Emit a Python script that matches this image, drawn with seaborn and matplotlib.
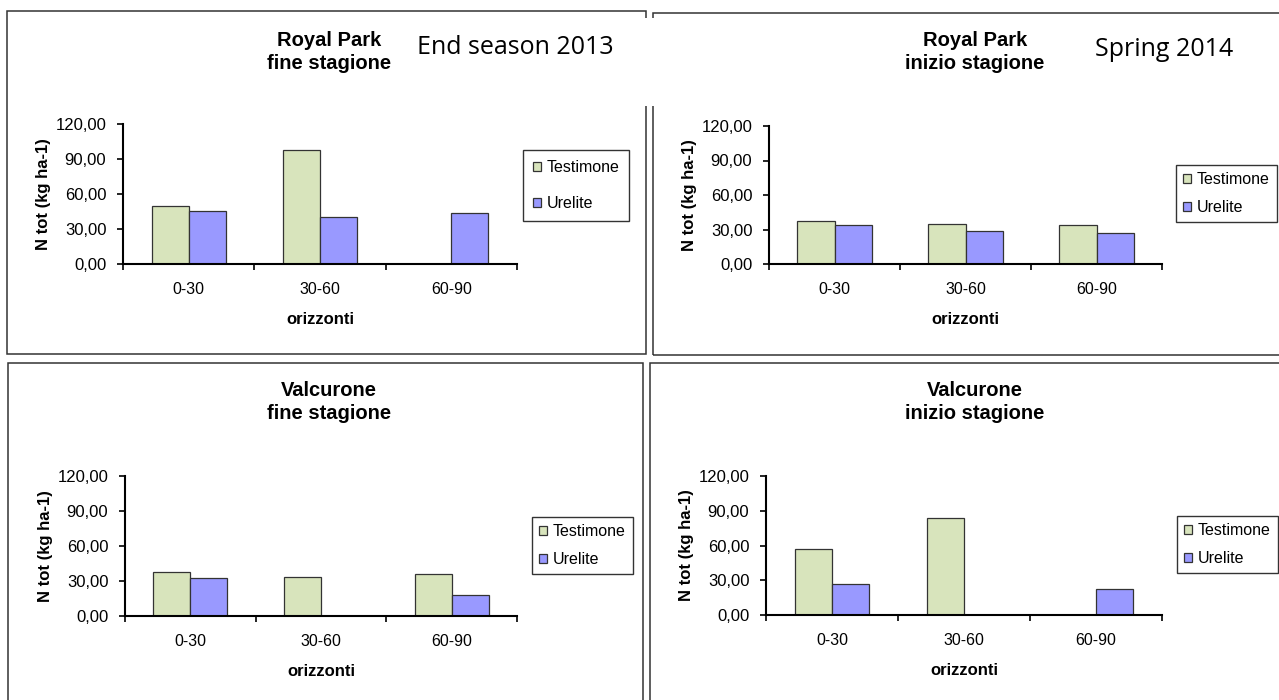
import numpy as np
import pandas as pd
import matplotlib
matplotlib.use("Agg")
import matplotlib.pyplot as plt
from matplotlib.patches import Rectangle, Patch
import seaborn as sns

sns.set_style("white", {"text.color": "black", "axes.labelcolor": "black",
                        "xtick.color": "black", "ytick.color": "black"})
plt.rcParams['font.family'] = ['Liberation Sans', 'DejaVu Sans']

# data (N tot, kg ha-1); nan = no bar
horizons = ["0-30", "30-60", "60-90"]
treatments = ["Testimone", "Urelite"]

rp_fine_testimone = [50.0, 97.7, np.nan]
rp_fine_urelite = [45.7, 40.0, 43.4]
rp_inizio_testimone = [37.4, 35.1, 33.6]
rp_inizio_urelite = [33.9, 28.4, 27.2]
vc_fine_testimone = [37.8, 33.5, 35.8]
vc_fine_urelite = [32.4, np.nan, 17.8]
vc_inizio_testimone = [56.7, 83.5, np.nan]
vc_inizio_urelite = [26.5, np.nan, 22.2]

yticks = [0, 30, 60, 90, 120]
ytick_labels = ["0,00", "30,00", "60,00", "90,00", "120,00"]

green = "#d8e4bc"
blue = "#9999ff"
edge = "#333333"

W, H = 1279, 700
fig = plt.figure(figsize=(W / 100, H / 100), dpi=100)


def fx(x):
    return x / W


def fy(y):
    return 1 - y / H


# outer chart frames (pixel boxes)
for x0, y0, x1, y1 in [(7, 11, 646, 354), (653, 13, 1290, 355),
                       (8, 363, 643, 710), (650, 363, 1290, 710)]:
    fig.patches.append(Rectangle((fx(x0), fy(y1)), fx(x1) - fx(x0), fy(y0) - fy(y1),
                                 transform=fig.transFigure, fill=False,
                                 edgecolor=edge, lw=1.1, zorder=0))
# the text box of the annotation hides part of the frames
fig.patches.append(Rectangle((fx(620), fy(106)), fx(40), fy(18) - fy(106),
                             transform=fig.transFigure, facecolor="white",
                             edgecolor="none", zorder=1))

panels = [
    dict(title="Royal Park\nfine stagione", t=rp_fine_testimone, u=rp_fine_urelite,
         box=(123, 124, 517, 264), tpos=(329, 52), leg=(523, 150), lsp=1.35, bp=0.62),
    dict(title="Royal Park\ninizio stagione", t=rp_inizio_testimone, u=rp_inizio_urelite,
         box=(769, 126, 1162, 264), tpos=(975, 52), leg=(1176, 165), lsp=0.8, bp=0.45),
    dict(title="Valcurone\nfine stagione", t=vc_fine_testimone, u=vc_fine_urelite,
         box=(125, 476, 517, 616), tpos=(329, 402), leg=(532, 517), lsp=0.8, bp=0.45),
    dict(title="Valcurone\ninizio stagione", t=vc_inizio_testimone, u=vc_inizio_urelite,
         box=(766, 476, 1162, 615), tpos=(975, 402), leg=(1177, 516), lsp=0.8, bp=0.45),
]

for p in panels:
    x0, y0, x1, y1 = p["box"]
    ax = fig.add_axes([fx(x0), fy(y1), fx(x1) - fx(x0), fy(y0) - fy(y1)])
    df = pd.DataFrame({
        "orizzonti": horizons * 2,
        "trattamento": [treatments[0]] * 3 + [treatments[1]] * 3,
        "N": list(p["t"]) + list(p["u"]),
    })
    sns.barplot(data=df, x="orizzonti", y="N", hue="trattamento",
                order=horizons, hue_order=treatments, palette=[green, blue],
                saturation=1, width=0.565, gap=0, edgecolor=edge, linewidth=0.9,
                errorbar=None, legend=False, ax=ax)
    ax.set_xlim(-0.5, 2.5)
    ax.set_ylim(0, 120)
    ax.set_yticks(yticks)
    ax.set_yticklabels(ytick_labels)
    ax.set_xticks([-0.5, 0.5, 1.5, 2.5], minor=True)
    ax.tick_params(axis="x", which="major", length=0, pad=13, labelsize=11.5)
    ax.tick_params(axis="x", which="minor", length=4, width=1.2, direction="out",
                   color="black", bottom=True)
    ax.tick_params(axis="y", length=4, width=1.2, direction="out", color="black",
                   left=True, labelsize=12, pad=8)
    sns.despine(ax=ax)
    for s in ("left", "bottom"):
        ax.spines[s].set_linewidth(1.5)
        ax.spines[s].set_color("black")
    ax.set_xlabel("orizzonti", fontweight="bold", fontsize=12, labelpad=11)
    ax.set_ylabel("N tot (kg ha-1)", fontweight="bold", fontsize=12, labelpad=3)

    fig.text(fx(p["tpos"][0]), fy(p["tpos"][1]), p["title"], ha="center", va="center",
             fontweight="bold", fontsize=14.5, linespacing=1.3)

    handles = [Patch(facecolor=green, edgecolor=edge, lw=0.9),
               Patch(facecolor=blue, edgecolor=edge, lw=0.9)]
    leg = ax.legend(handles, treatments, loc="upper left",
                    bbox_to_anchor=(fx(p["leg"][0]), fy(p["leg"][1])),
                    bbox_transform=fig.transFigure, borderaxespad=0,
                    fontsize=11.5, handlelength=0.5, handleheight=0.5,
                    handletextpad=0.35, borderpad=p["bp"], labelspacing=p["lsp"],
                    frameon=True, fancybox=False, framealpha=1, edgecolor=edge)
    leg.get_frame().set_linewidth(1.0)

fig.text(fx(417), fy(47), "End season 2013", ha="left", va="center",
         family=["Open Sans", "DejaVu Sans"], fontsize=18, zorder=3)
fig.text(fx(1095), fy(49), "Spring 2014", ha="left", va="center",
         family=["Open Sans", "DejaVu Sans"], fontsize=18, zorder=3)

fig.savefig("out.png", dpi=100)
